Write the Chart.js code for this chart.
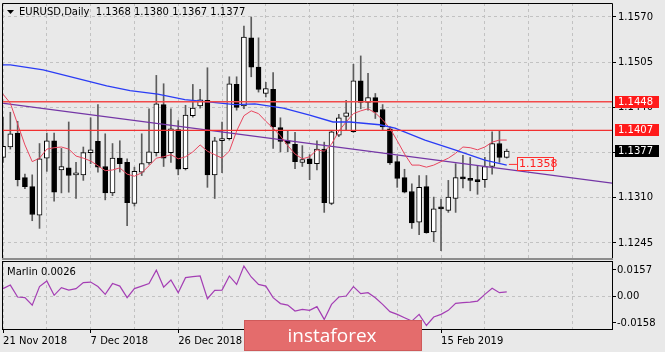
<!DOCTYPE html>
<html>
<head>
<meta charset="utf-8">
<script src="https://cdn.jsdelivr.net/npm/chart.js@4.4.1/dist/chart.umd.min.js"></script>
<style>
    html, body { margin: 0; padding: 0; background: #e9e9e9; }
    #wrap { position: relative; width: 665px; height: 352px; overflow: hidden; }
    canvas { position: absolute; left: 0; }
    #price-graph { top: 0; }
    #marlin-graph { top: 260px; }
</style>
</head>
<body>
<div id="wrap">
    <canvas id="price-graph" width="665" height="260"></canvas>
    <canvas id="marlin-graph" width="665" height="92"></canvas>
</div>
<script>
var symbol = 'EURUSD,Daily';
var dateLabels = ['21 Nov 2018', '7 Dec 2018', '26 Dec 2018', '14 Jan 2019', '30 Jan 2019', '15 Feb 2019'];

var openP = [1.1368, 1.1383, 1.1403, 1.1339, 1.1326, 1.1285, 1.1367, 1.1392, 1.1350, 1.1353,
    1.1343, 1.1343, 1.1375, 1.1391, 1.1355, 1.1317, 1.1367, 1.1361, 1.1302, 1.1347,
    1.1360, 1.1375, 1.1444, 1.1375, 1.1408, 1.1352, 1.1428, 1.1442, 1.1450, 1.1343,
    1.1392, 1.1395, 1.1473, 1.1442, 1.1540, 1.1498, 1.1460, 1.1466, 1.1411, 1.1392,
    1.1387, 1.1361, 1.1366, 1.1359, 1.1380, 1.1302, 1.1400, 1.1427, 1.1405, 1.1478,
    1.1447, 1.1454, 1.1437, 1.1409, 1.1362, 1.1339, 1.1319, 1.1275, 1.1326, 1.1261,
    1.1295, 1.1292, 1.1309, 1.1340, 1.1336, 1.1336, 1.1336, 1.1355, 1.1388, 1.1368];
var highP = [1.1426, 1.1433, 1.1420, 1.1344, 1.1343, 1.1388, 1.1403, 1.1403, 1.1381, 1.1419,
    1.1361, 1.1383, 1.1425, 1.1444, 1.1402, 1.1388, 1.1392, 1.1366, 1.1354, 1.1402,
    1.1438, 1.1486, 1.1474, 1.1438, 1.1421, 1.1443, 1.1473, 1.1466, 1.1497, 1.1397,
    1.1419, 1.1484, 1.1484, 1.1557, 1.1570, 1.1540, 1.1476, 1.1490, 1.1425, 1.1407,
    1.1404, 1.1385, 1.1372, 1.1392, 1.1390, 1.1407, 1.1430, 1.1450, 1.1502, 1.1514,
    1.1489, 1.1460, 1.1444, 1.1412, 1.1370, 1.1351, 1.1330, 1.1342, 1.1342, 1.1311,
    1.1308, 1.1335, 1.1359, 1.1371, 1.1368, 1.1356, 1.1368, 1.1405, 1.1406, 1.1380];
var lowP = [1.1361, 1.1380, 1.1327, 1.1323, 1.1277, 1.1266, 1.1348, 1.1305, 1.1317, 1.1318,
    1.1309, 1.1335, 1.1359, 1.1347, 1.1307, 1.1313, 1.1347, 1.1270, 1.1298, 1.1342,
    1.1358, 1.1370, 1.1355, 1.1361, 1.1343, 1.1350, 1.1426, 1.1439, 1.1325, 1.1309,
    1.1346, 1.1393, 1.1436, 1.1438, 1.1484, 1.1462, 1.1455, 1.1381, 1.1376, 1.1376,
    1.1352, 1.1355, 1.1336, 1.1350, 1.1289, 1.1300, 1.1398, 1.1407, 1.1404, 1.1438,
    1.1436, 1.1424, 1.1408, 1.1358, 1.1325, 1.1317, 1.1266, 1.1257, 1.1259, 1.1247,
    1.1234, 1.1289, 1.1289, 1.1324, 1.1320, 1.1315, 1.1325, 1.1344, 1.1361, 1.1367];
var closeP = [1.1384, 1.1402, 1.1336, 1.1326, 1.1286, 1.1366, 1.1392, 1.1318, 1.1355, 1.1342,
    1.1344, 1.1375, 1.1379, 1.1354, 1.1317, 1.1367, 1.1359, 1.1303, 1.1348, 1.1359,
    1.1376, 1.1445, 1.1367, 1.1409, 1.1351, 1.1429, 1.1439, 1.1451, 1.1343, 1.1392,
    1.1395, 1.1474, 1.1440, 1.1541, 1.1498, 1.1466, 1.1467, 1.1412, 1.1391, 1.1388,
    1.1362, 1.1365, 1.1359, 1.1380, 1.1303, 1.1405, 1.1425, 1.1432, 1.1478, 1.1447,
    1.1454, 1.1433, 1.1412, 1.1360, 1.1338, 1.1318, 1.1274, 1.1325, 1.1260, 1.1294,
    1.1294, 1.1311, 1.1339, 1.1337, 1.1335, 1.1333, 1.1355, 1.1388, 1.1368, 1.1377];

// red moving average, one value per bar
var fastMa = [1.1459, 1.1446, 1.1416, 1.1386, 1.1362, 1.1367, 1.1380, 1.1382, 1.1383, 1.1380,
    1.1370, 1.1367, 1.1363, 1.1356, 1.1349, 1.1350, 1.1353, 1.1344, 1.1341, 1.1346,
    1.1356, 1.1367, 1.1369, 1.1372, 1.1366, 1.1369, 1.1376, 1.1386, 1.1377, 1.1372,
    1.1367, 1.1377, 1.1406, 1.1428, 1.1435, 1.1431, 1.1420, 1.1410, 1.1399, 1.1385,
    1.1373, 1.1366, 1.1369, 1.1379, 1.1377, 1.1387, 1.1406, 1.1419, 1.1431, 1.1435,
    1.1438, 1.1432, 1.1422, 1.1410, 1.1392, 1.1373, 1.1357, 1.1357, 1.1354, 1.1357,
    1.1362, 1.1367, 1.1374, 1.1383, 1.1382, 1.1379, 1.1383, 1.1390, 1.1393, 1.1393];

// blue moving average, read at these bar positions
var slowIdx = [-0.14, 1, 5.5, 11.9, 14.2, 17.4, 21.2, 24.9, 28.1, 31.8, 34.5, 38.4, 42, 45.2, 47.5, 51.6, 53.7, 57.8, 61.9, 66, 69];
var slowVal = [1.1501, 1.1501, 1.1494, 1.1477, 1.1471, 1.1464, 1.1459, 1.1451, 1.1448, 1.1444, 1.1445, 1.1439, 1.1429, 1.1419, 1.1419, 1.1415, 1.1410, 1.1393, 1.1379, 1.1364, 1.1357];

var trendIdx = [-0.14, 83.42];
var trendVal = [1.1446, 1.1331];
var levels = [1.1448, 1.1407];
var priceMark = 1.1358;
var priceTicks = [1.1245, 1.1310, 1.1375, 1.1440, 1.1505, 1.1570];

var marlin = [0.0046, 0.0067, -0.0004, -0.0008, -0.0052, 0.0058, 0.0091, 0.0006, 0.0052, 0.0037,
    0.0046, 0.0082, 0.0085, 0.0058, 0.0012, 0.0076, 0.0061, -0.0008, 0.0046, 0.0061,
    0.0076, 0.0156, 0.0055, 0.0097, 0.0022, 0.0111, 0.0117, 0.0121, -0.0014, 0.0036,
    0.0037, 0.0121, 0.0071, 0.0180, 0.0115, 0.0071, 0.0061, -0.0008, -0.0043, -0.0052,
    -0.0087, -0.0077, -0.0083, -0.0061, -0.0137, -0.0048, -0.0004, 0.0002, 0.0058, 0.0016,
    0.0022, -0.0008, -0.0048, -0.0091, -0.0107, -0.0127, -0.0147, -0.0107, -0.0173, -0.0123,
    -0.0107, -0.0083, -0.0042, -0.0037, -0.0034, -0.0028, 0.0012, 0.0048, 0.0022, 0.0026];
var marlinTicks = [-0.0158, 0, 0.0157];

var font = '"DejaVu Sans", sans-serif';
var gridColor = '#c2c2c2';
var xMin = -0.14, xMax = 83.42;
var n = closeP.length;
var last = n - 1;

var barIdx = closeP.map(function(v, i) { return i; });
var gridIdx = [];
for (var g = 0; g <= 78; g += 6) gridIdx.push(g);

function pairs(xs, ys) {
    return xs.map(function(v, k) { return { x: v, y: ys[k] }; });
}

function noPad(s) {
    s.paddingTop = 0; s.paddingBottom = 0; s.paddingLeft = 0; s.paddingRight = 0;
}

function priceBox(ctx, y, text, fill, textColor, stroke) {
    ctx.fillStyle = fill;
    ctx.fillRect(615, Math.round(y) - 6, 44, 12);
    if (stroke) {
        ctx.strokeStyle = stroke;
        ctx.strokeRect(615.5, Math.round(y) - 5.5, 43, 11);
    }
    ctx.fillStyle = textColor;
    ctx.textAlign = 'left';
    ctx.textBaseline = 'middle';
    ctx.fillText(text, 618, Math.round(y) + 0.5);
}

var priceOverlay = {
    id: 'priceOverlay',
    afterDraw: function(chart) {
        var ctx = chart.ctx, a = chart.chartArea, y = chart.scales.y, x = chart.scales.x;
        ctx.save();
        ctx.lineWidth = 1;
        ctx.strokeStyle = '#000';
        ctx.beginPath();
        ctx.moveTo(a.left + 0.5, a.bottom);
        ctx.lineTo(a.left + 0.5, a.top + 0.5);
        ctx.lineTo(a.right + 0.5, a.top + 0.5);
        ctx.lineTo(a.right + 0.5, a.bottom);
        ctx.stroke();
        ctx.strokeStyle = '#8c8c8c';
        ctx.lineWidth = 2;
        ctx.beginPath();
        ctx.moveTo(a.left, a.bottom + 1);
        ctx.lineTo(a.right + 1, a.bottom + 1);
        ctx.stroke();
        ctx.lineWidth = 1;

        // header
        ctx.fillStyle = '#000';
        ctx.beginPath();
        ctx.moveTo(7, 10); ctx.lineTo(14, 10); ctx.lineTo(10.5, 14); ctx.closePath();
        ctx.fill();
        ctx.font = '10px ' + font;
        ctx.textAlign = 'left';
        ctx.textBaseline = 'middle';
        var ohlc = [openP[last], highP[last], lowP[last], closeP[last]].map(function(v) { return v.toFixed(4); });
        ctx.fillText(symbol + '  ' + ohlc.join(' '), 19, 12);

        // right side price labels
        levels.forEach(function(v) {
            priceBox(ctx, y.getPixelForValue(v), v.toFixed(4), '#ff1a1a', '#fff');
        });
        priceBox(ctx, y.getPixelForValue(closeP[last]), closeP[last].toFixed(4), '#000', '#fff');

        // price label of the last bar
        var my = Math.round(y.getPixelForValue(priceMark));
        var mx = Math.round(x.getPixelForValue(last + 1.4));
        ctx.fillStyle = '#ececec';
        ctx.fillRect(mx, my - 7, 37, 14);
        ctx.strokeStyle = '#ff3030';
        ctx.strokeRect(mx + 0.5, my - 6.5, 36, 13);
        ctx.fillStyle = '#ff2020';
        ctx.font = '11px ' + font;
        ctx.fillText(priceMark.toFixed(4), mx + 2, my + 0.5);
        ctx.restore();
    }
};

var ctx = document.getElementById('price-graph').getContext('2d');
var price_graph = new Chart(ctx, {
    type: 'bar',
    data: {
        datasets: [{
            label: 'wick',
            data: barIdx.map(function(i) { return { x: i, y: [lowP[i], highP[i]] }; }),
            backgroundColor: '#5c5c5c',
            barThickness: 1,
            grouped: false,
            order: 4
        }, {
            label: 'body',
            data: barIdx.map(function(i) { return { x: i, y: [openP[i], closeP[i]] }; }),
            backgroundColor: function(c) {
                var i = c.dataIndex;
                return closeP[i] > openP[i] ? '#ffffff' : '#000000';
            },
            borderColor: '#000',
            borderWidth: 1,
            borderSkipped: false,
            barThickness: 5,
            minBarLength: 2,
            grouped: false,
            order: 3
        }, {
            type: 'line',
            label: 'trend',
            data: pairs(trendIdx, trendVal),
            borderColor: '#7436a6',
            borderWidth: 1.3,
            pointRadius: 0,
            order: 2
        }, {
            type: 'line',
            label: 'slow ma',
            data: pairs(slowIdx, slowVal),
            borderColor: '#2a3cf5',
            borderWidth: 1.3,
            pointRadius: 0,
            order: 1
        }, {
            type: 'line',
            label: 'fast ma',
            data: pairs(barIdx, fastMa),
            borderColor: '#e8465e',
            borderWidth: 1,
            pointRadius: 0,
            order: 1
        }, {
            type: 'line',
            label: 'level 1',
            data: pairs([xMin, xMax], [levels[0], levels[0]]),
            borderColor: '#f24a4a',
            borderWidth: 1.6,
            pointRadius: 0,
            order: 0
        }, {
            type: 'line',
            label: 'level 2',
            data: pairs([xMin, xMax], [levels[1], levels[1]]),
            borderColor: '#f23030',
            borderWidth: 1.4,
            pointRadius: 0,
            order: 0
        }, {
            type: 'line',
            label: 'mark',
            data: pairs([last + 0.3, last + 1.4], [priceMark, priceMark]),
            borderColor: '#ff3030',
            borderWidth: 1,
            pointRadius: 0,
            order: 0
        }]
    },
    options: {
        responsive: false,
        animation: false,
        devicePixelRatio: 1,
        layout: { autoPadding: false, padding: { left: 2, top: 3, right: 0, bottom: 2 } },
        plugins: { legend: { display: false }, tooltip: { enabled: false } },
        scales: {
            x: {
                type: 'linear',
                min: xMin,
                max: xMax,
                offset: false,
                grid: { color: gridColor, drawTicks: false, offset: false },
                border: { display: false, dash: [3, 3] },
                ticks: { display: false },
                afterBuildTicks: function(s) { s.ticks = gridIdx.map(function(v) { return { value: v }; }); },
                afterFit: function(s) { s.height = 0; noPad(s); }
            },
            y: {
                position: 'right',
                min: 1.12234,
                max: 1.15901,
                beginAtZero: false,
                grid: { color: gridColor, tickColor: '#000', tickLength: 4 },
                border: { display: false, dash: [3, 3] },
                ticks: {
                    color: '#000',
                    font: { family: font, size: 10 },
                    padding: 2,
                    autoSkip: false,
                    callback: function(v) { return v.toFixed(4); }
                },
                afterBuildTicks: function(s) { s.ticks = priceTicks.map(function(v) { return { value: v }; }); },
                afterFit: function(s) { s.width = 53; noPad(s); }
            }
        }
    },
    plugins: [priceOverlay]
});

var marlinOverlay = {
    id: 'marlinOverlay',
    afterDraw: function(chart) {
        var ctx = chart.ctx, a = chart.chartArea;
        ctx.save();
        ctx.strokeStyle = '#000';
        ctx.lineWidth = 1;
        ctx.strokeRect(a.left + 0.5, a.top + 0.5, a.right - a.left, a.bottom - a.top);
        ctx.fillStyle = '#000';
        ctx.font = '10px ' + font;
        ctx.textAlign = 'left';
        ctx.textBaseline = 'middle';
        ctx.fillText('Marlin ' + marlin[last].toFixed(4), 7, 12);

        // instaforex watermark
        ctx.fillStyle = '#e46c6c';
        ctx.fillRect(244, 60, 178, 31);
        ctx.strokeStyle = '#cf5a5a';
        ctx.strokeRect(244.5, 60.5, 177, 30);
        ctx.fillStyle = '#fff';
        ctx.font = '19px "Open Sans", sans-serif';
        ctx.textAlign = 'center';
        ctx.textBaseline = 'alphabetic';
        ctx.fillText('instaforex', 332, 82);
        ctx.restore();
    }
};

var ctx = document.getElementById('marlin-graph').getContext('2d');
var marlin_graph = new Chart(ctx, {
    type: 'line',
    data: {
        datasets: [{
            label: 'Marlin',
            data: pairs(barIdx, marlin),
            borderColor: '#a43eb4',
            borderWidth: 1.2,
            pointRadius: 0
        }]
    },
    options: {
        responsive: false,
        animation: false,
        devicePixelRatio: 1,
        layout: { autoPadding: false, padding: { left: 2, top: 1, right: 0, bottom: 0 } },
        plugins: { legend: { display: false }, tooltip: { enabled: false } },
        scales: {
            x: {
                type: 'linear',
                min: xMin,
                max: xMax,
                offset: false,
                grid: {
                    color: gridColor,
                    tickLength: 4,
                    tickColor: function(c) {
                        return c.tick && c.tick.value % 12 === 0 ? '#000' : 'rgba(0,0,0,0)';
                    }
                },
                border: { display: false, dash: [3, 3] },
                ticks: {
                    color: '#000',
                    font: { family: font, size: 10 },
                    padding: 2,
                    align: 'start',
                    maxRotation: 0,
                    autoSkip: false,
                    callback: function(v) { return v % 12 === 0 ? dateLabels[v / 12] : ''; }
                },
                afterBuildTicks: function(s) { s.ticks = gridIdx.map(function(v) { return { value: v }; }); },
                afterFit: function(s) { s.height = 23; noPad(s); }
            },
            y: {
                position: 'right',
                min: -0.0194,
                max: 0.0210,
                grid: {
                    color: function(c) { return c.tick && c.tick.value === 0 ? gridColor : 'rgba(0,0,0,0)'; },
                    tickColor: '#000',
                    tickLength: 4
                },
                border: { display: false, dash: [3, 3] },
                ticks: {
                    color: '#000',
                    font: { family: font, size: 10 },
                    padding: 1,
                    autoSkip: false,
                    callback: function(v) { return v === 0 ? '0.00' : v.toFixed(4); }
                },
                afterBuildTicks: function(s) { s.ticks = marlinTicks.map(function(v) { return { value: v }; }); },
                afterFit: function(s) { s.width = 53; noPad(s); }
            }
        }
    },
    plugins: [marlinOverlay]
});
</script>
</body>
</html>
